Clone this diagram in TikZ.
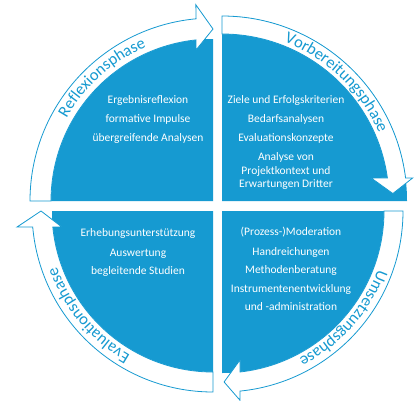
\documentclass[tikz,border=0pt]{standalone}
\usepackage{fontspec}
\setmainfont{Carlito}
\usetikzlibrary{decorations.text}
\definecolor{cblue}{RGB}{22,154,209}
\newcommand\phasefont{\fontsize{16.5}{16.5}\selectfont}
\tikzset{
  sector/.style={fill=cblue, draw=none},
  band/.style={fill=white, draw=cblue, line width=0.8pt, line join=miter},
  item/.style={text=white, font=\fontsize{11.5}{13.5}\selectfont, anchor=base, inner sep=0pt},
  phase/.style={decorate, decoration={text along path, text align=center, text color=cblue}},
}
\begin{document}
\begin{tikzpicture}[x=1pt,y=1pt]
\useasboundingbox (0,0) rectangle (414,400);
\coordinate (cTL) at (213,199);
\coordinate (cTR) at (222,199);
\coordinate (cBR) at (222,189);
\coordinate (cBL) at (213,189);
% sectors
\fill[sector] (cTL) -- ++(180:162) arc[start angle=180,end angle=90,radius=162] -- cycle;
\fill[sector] (cTR) -- ++(90:185) arc[start angle=90,end angle=0,radius=185] -- cycle;
\fill[sector] (cBR) -- ++(0:162) arc[start angle=0,end angle=-90,radius=162] -- cycle;
\fill[sector] (cBL) -- ++(270:161) arc[start angle=270,end angle=180,radius=161] -- cycle;
% arrows
\begin{scope}[shift={(cTL)}]
  \draw[band] (180:183) arc[start angle=180,end angle=95.3,radius=183] -- (95:197) -- (90:172) -- (96.4:152) -- (96:162) arc[start angle=96,end angle=180,radius=162] -- cycle;
  \path[phase, decoration={text={|\phasefont|Reflexionsphase}}] (172:168) arc[start angle=172,end angle=92,radius=168];
\end{scope}
\begin{scope}[shift={(cTR)}]
  \draw[band] (90:185) arc[start angle=90,end angle=7.14,radius=185] -- (6.88:192) -- (2.5:171) -- (8.76:151) -- (7.92:167) arc[start angle=7.92,end angle=90,radius=167] -- cycle;
  \path[phase, decoration={text={|\phasefont|Vorbereitungsphase}}] (86:171) arc[start angle=86,end angle=6,radius=171];
\end{scope}
\begin{scope}[shift={(cBR)}]
  \draw[band] (0:181) arc[start angle=0,end angle=-84.3,radius=181] -- (-84.6:190) -- (-89.3:171) -- (-83.1:150) -- (-83.6:162) arc[start angle=-83.6,end angle=0,radius=162] -- cycle;
  \path[phase, decoration={text={|\phasefont|Umsetzungsphase}}] (-1.5:166.5) arc[start angle=-1.5,end angle=-81.5,radius=166.5];
\end{scope}
\begin{scope}[shift={(cBL)}]
  \draw[band] (270:181) arc[start angle=270,end angle=185.07,radius=181] -- (184.67:196.6) -- (180:172) -- (186.04:152) -- (185.7:161) arc[start angle=185.7,end angle=270,radius=161] -- cycle;
  \path[phase, decoration={text={|\phasefont|Evaluationsphase}}] (260:166) arc[start angle=260,end angle=180,radius=166];
\end{scope}
% items
\node[item] (tl1) at (148,297) {Ergebnisreflexion};
\node[item] (tl2) at (148,278) {formative Impulse};
\node[item] (tl3) at (148,259) {übergreifende Analysen};
\node[item] (tr1) at (286,297) {Ziele und Erfolgskriterien};
\node[item] (tr2) at (286,278) {Bedarfsanalysen};
\node[item] (tr3) at (286,259) {Evaluationskonzepte};
\node[item] (tr4) at (286,240) {Analyse von};
\node[item] (tr5) at (286,226) {Projektkontext und};
\node[item] (tr6) at (286,213) {Erwartungen Dritter};
\node[item] (bl1) at (138,164) {Erhebungsunterstützung};
\node[item] (bl2) at (138,144) {Auswertung};
\node[item] (bl3) at (138,126) {begleitende Studien};
\node[item] (br1) at (291,165) {(Prozess-)Moderation};
\node[item] (br2) at (291,145) {Handreichungen};
\node[item] (br3) at (291,127) {Methodenberatung};
\node[item] (br4) at (291,108) {Instrumentenentwicklung};
\node[item] (br5) at (291,90) {und -administration};
\end{tikzpicture}
\end{document}
